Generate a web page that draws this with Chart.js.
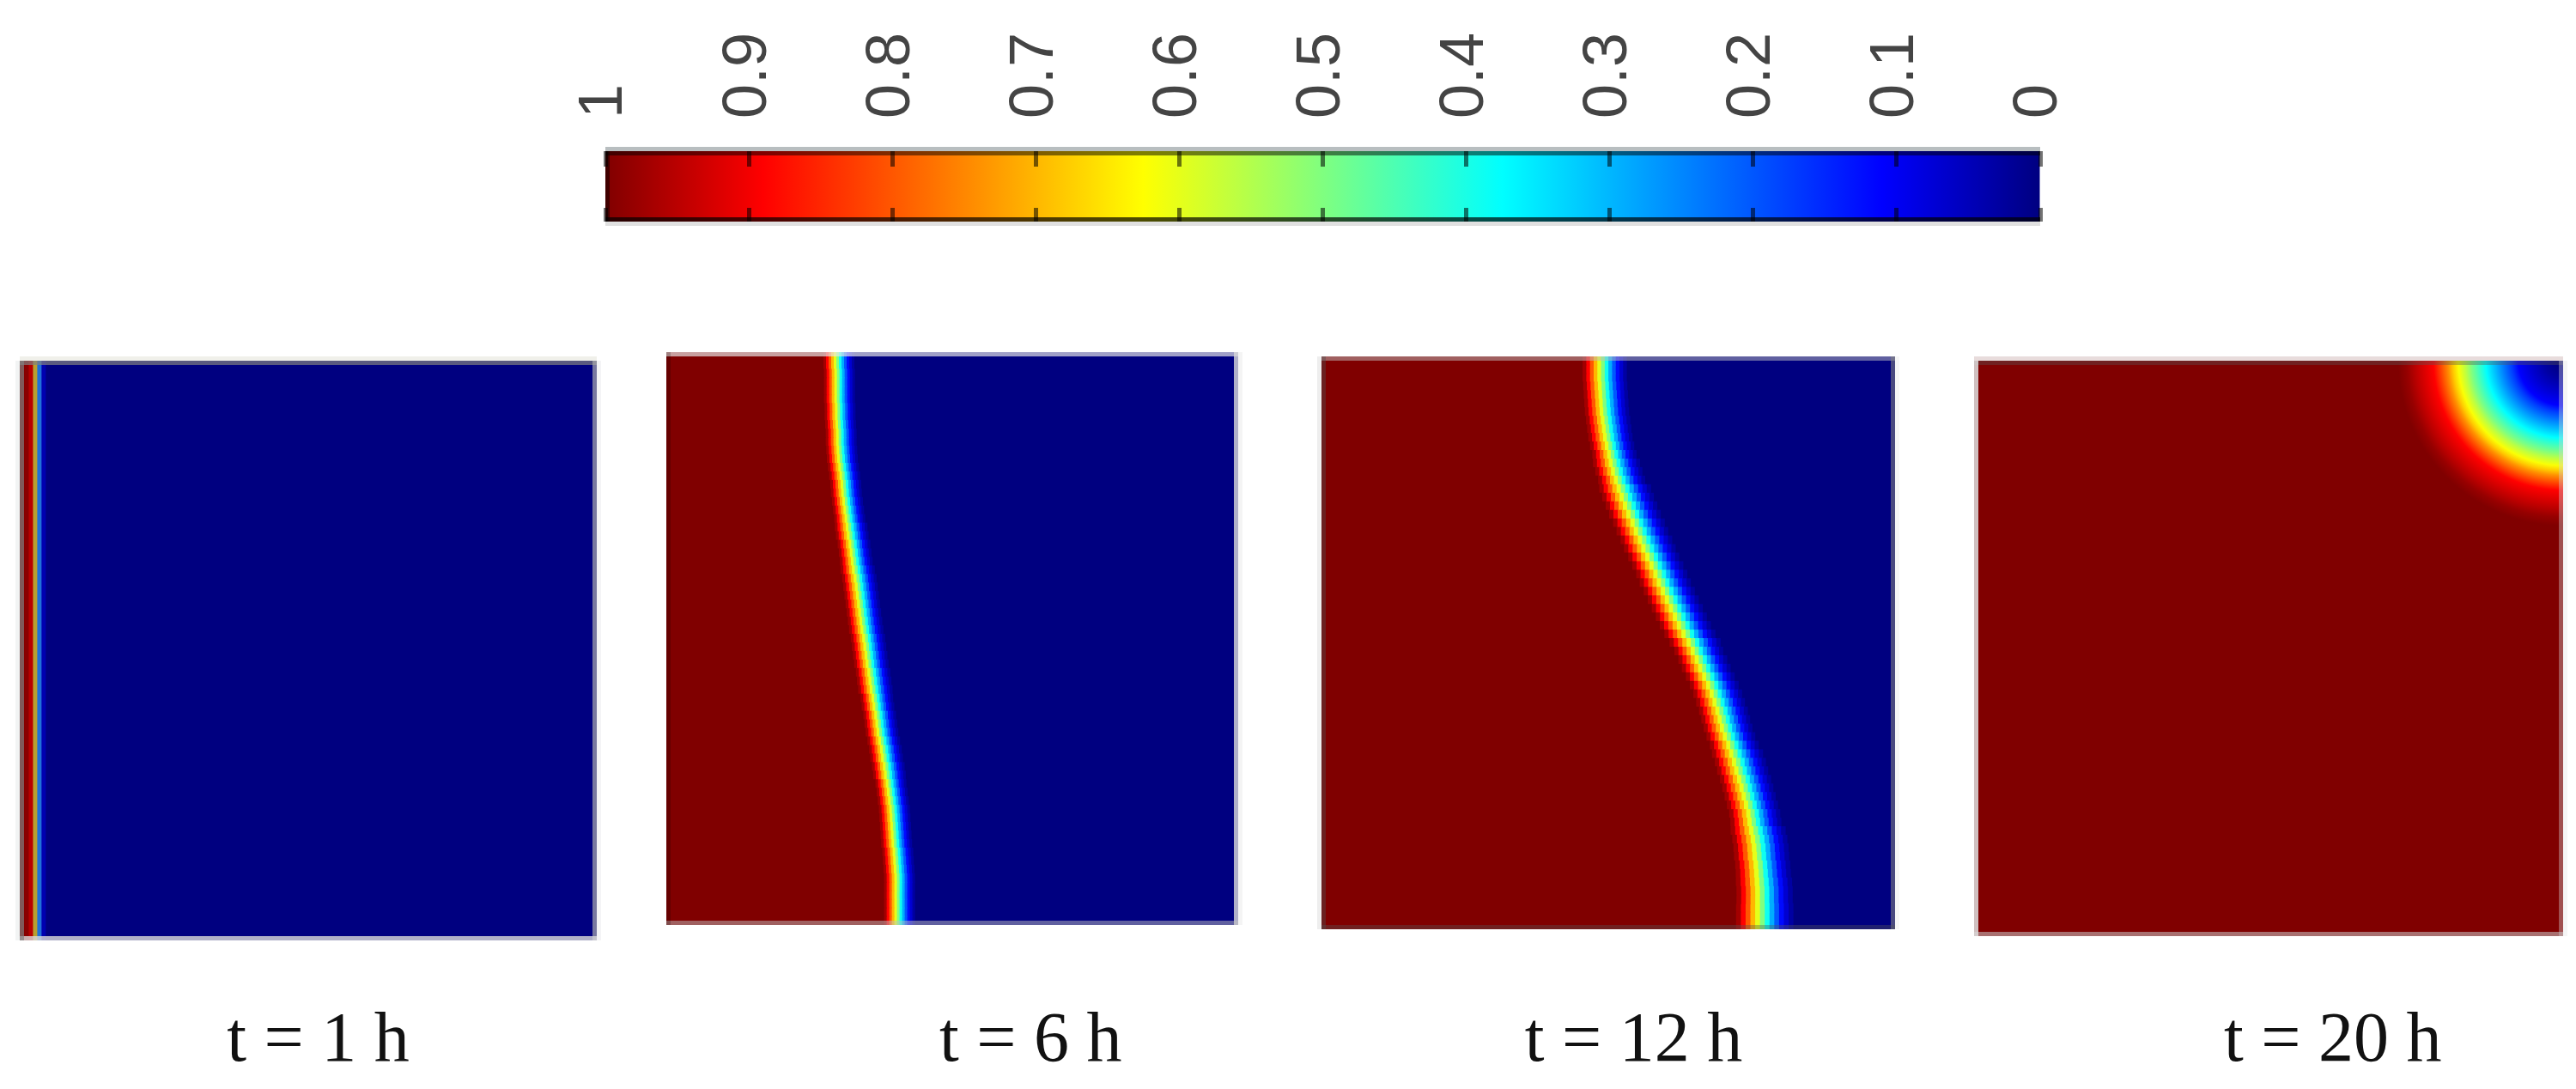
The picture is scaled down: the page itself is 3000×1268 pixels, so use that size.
<!DOCTYPE html>
<html>
<head>
<meta charset="utf-8">
<title>Phase field snapshots</title>
<script src="https://cdn.jsdelivr.net/npm/chart.js@4.4.2/dist/chart.umd.min.js"></script>
<style>
  html, body { margin: 0; background: #fff; }
  body { position: relative; width: 3000px; height: 1268px; overflow: hidden; }
  canvas { position: absolute; }
</style>
</head>
<body>
<script>
// ---------- DATA ----------
const tickLabels = ["1", "0.9", "0.8", "0.7", "0.6", "0.5", "0.4", "0.3", "0.2", "0.1", "0"];
const captions   = ["t = 1 h", "t = 6 h", "t = 12 h", "t = 20 h"];

// colour scale: value -> colour
const jetLevels = [1, 0.89, 0.625, 0.375, 0.11, 0];
const jetColors = [[128, 0, 0], [255, 0, 0], [255, 255, 0], [0, 255, 255], [0, 0, 255], [0, 0, 128]];

// values of the thin bands across a front, from the full side to the empty side
const bandLevels = [0.97, 0.89, 0.8, 0.7, 0.6, 0.5, 0.39, 0.29, 0.2, 0.12, 0.07, 0.03];

// t = 1 h: straight stripes at the left edge, % of panel width
const stripes1h = [0.74, 0.74, 0.74, 0.74, 0.74, 0.74];

// t = 6 h: front centre and front width per row, top to bottom, % of panel width
const front6h = [
  29.4, 29.4, 29.5, 29.5, 29.5, 29.5, 29.6, 29.6, 29.7, 29.8,
  29.8, 29.9, 30.0, 30.2, 30.4, 30.6, 30.7, 30.9, 31.1, 31.3,
  31.5, 31.7, 32.0, 32.2, 32.4, 32.6, 32.9, 33.1, 33.3, 33.5,
  33.7, 33.9, 34.1, 34.4, 34.6, 34.8, 35.0, 35.3, 35.5, 35.7,
  36.0, 36.2, 36.5, 36.7, 36.9, 37.2, 37.5, 37.7, 38.0, 38.2,
  38.5, 38.7, 38.9, 39.1, 39.2, 39.3, 39.4, 39.5, 39.7, 39.8,
  39.9, 40.0, 40.0, 40.0, 40.0, 40.0, 40.0
];
const width6h = [
  5.4, 5.4, 5.4, 5.4, 5.4, 5.4, 5.4, 5.4, 5.4, 5.4,
  5.4, 5.4, 5.4, 5.4, 5.4, 5.4, 5.4, 5.4, 5.4, 5.4,
  5.7, 5.7, 5.7, 5.7, 5.7, 6.0, 6.0, 6.0, 6.0, 6.0,
  6.0, 6.0, 6.0, 6.0, 6.0, 6.0, 6.0, 6.0, 6.0, 6.0,
  5.7, 5.7, 5.7, 5.7, 5.7, 5.7, 5.7, 5.7, 5.7, 5.7,
  5.4, 5.4, 5.4, 5.4, 5.4, 5.4, 5.4, 5.4, 5.4, 5.4,
  5.4, 5.4, 5.4, 5.4, 5.4, 5.4, 5.4
];

// t = 12 h: same reading
const front12h = [
  48.3, 48.3, 48.3, 48.4, 48.5, 48.6, 48.7, 48.9, 49.1, 49.3,
  49.6, 50.0, 50.3, 50.7, 51.2, 51.7, 52.2, 52.8, 53.4, 54.1,
  54.7, 55.4, 56.0, 56.7, 57.4, 58.1, 58.7, 59.4, 60.1, 60.8,
  61.5, 62.2, 63.0, 63.9, 64.6, 65.3, 65.9, 66.6, 67.3, 67.9,
  68.4, 68.9, 69.3, 69.7, 70.2, 70.8, 71.3, 71.8, 72.2, 72.7,
  73.1, 73.5, 73.9, 74.3, 74.5, 74.8, 75.1, 75.3, 75.4, 75.6,
  75.7, 75.8, 75.9, 75.9, 75.9, 75.9, 75.9
];
const width12h = [
  7.7, 7.7, 7.7, 7.7, 7.7, 7.7, 7.7, 7.7, 7.7, 7.7,
  7.7, 7.7, 8.2, 8.2, 8.2, 9.0, 9.0, 9.0, 9.0, 9.0,
  9.0, 9.0, 9.0, 8.9, 8.9, 8.9, 8.9, 8.9, 8.9, 8.9,
  8.9, 8.9, 8.9, 8.9, 8.5, 8.5, 8.5, 8.5, 8.5, 8.5,
  8.5, 8.5, 8.5, 8.5, 8.5, 8.5, 8.9, 8.9, 8.9, 8.9,
  8.9, 8.9, 8.9, 8.9, 8.9, 9.6, 9.6, 9.6, 9.6, 9.6,
  9.6, 9.8, 9.8, 9.8, 10.0, 10.0, 10.0
];

// t = 20 h: contours round the top right corner, value and radius in % of panel width
const ringLevels = [1, 1, 0.98, 0.95, 0.92, 0.89, 0.82, 0.74, 0.68, 0.62, 0.56, 0.5, 0.44, 0.375, 0.3, 0.24, 0.17, 0.11, 0.07, 0.03, 0];
const ringRadii  = [150, 28, 26.5, 25.1, 23.6, 22.0, 20.8, 19.5, 18.7, 17.8, 16.6, 15.6, 14.4, 13.1, 11.5, 10.2, 8.7, 7.6, 5.5, 3.2, 1.0];

// where each caption sits under its panel, % of panel width
const captionAt = [51.7, 63.7, 54.4, 60.9];

// ---------- LAYOUT ----------
const EDGE = 5;
const boxes = [
  { x: 23,   y: 420, w: 672, h: 675, gap: 69 },
  { x: 776,  y: 410, w: 666, h: 667, gap: 87 },
  { x: 1539, y: 415, w: 668, h: 667, gap: 82 },
  { x: 2299, y: 420, w: 686, h: 670, gap: 74 }
];
// edge strips of each panel: top, right, bottom, left
const insideEdges = [
  ["rgba(128,128,128,.7)", "rgba(174,174,174,.69)", "rgba(217,217,217,.81)", "rgba(128,128,128,.7)"],
  ["rgba(232,232,232,.69)", "rgba(217,217,217,.81)", "rgba(192,192,192,.5)", "rgba(0,0,0,.2)"],
  ["rgba(192,192,192,.5)", "rgba(128,128,128,.58)", "rgba(85,85,85,.375)", "rgba(78,78,78,.41)"],
  ["rgba(85,85,85,.375)", "rgba(213,213,213,.375)", "rgba(200,200,200,.56)", "rgba(219,219,219,.875)"]
];
const outsideEdges = [
  ["#f0f0ea", "#f4f4f6", null, "#f2f4f4"],
  [null, "#f4f4f4", null, null],
  [null, "#f6f6f6", null, "#eeeeee"],
  ["#e8dcdc", "#f5f5f5", null, null]
];

// ---------- HELPERS ----------
function jetAt(v) {
  let i = 0;
  while (i < jetLevels.length - 2 && v < jetLevels[i + 1]) i++;
  const t = (jetLevels[i] - v) / (jetLevels[i] - jetLevels[i + 1]);
  const c = jetColors[i].map((a, k) => Math.round(a + (jetColors[i + 1][k] - a) * t));
  return `rgb(${c[0]},${c[1]},${c[2]})`;
}

// strips drawn over and round the plot area
const edgeStrips = {
  id: "edgeStrips",
  afterDraw(chart, args, opts) {
    const { ctx, chartArea: a } = chart;
    const rects = (d, out) => [
      [a.left, out ? a.top - d : a.top, a.width, d],
      [out ? a.right : a.right - d, a.top, d, a.height],
      [a.left, out ? a.bottom : a.bottom - d, a.width, d],
      [out ? a.left - d : a.left, a.top, d, a.height]
    ];
    ctx.save();
    [[opts.outside, true], [opts.inside, false]].forEach(([list, out]) => {
      rects(EDGE, out).forEach((r, i) => {
        if (!list || !list[i]) return;
        ctx.fillStyle = list[i];
        ctx.fillRect(r[0], r[1], r[2], r[3]);
      });
    });
    ctx.restore();
  }
};
Chart.register(edgeStrips);

function addCanvas(left, top, width, height) {
  const c = document.createElement("canvas");
  c.width = width;
  c.height = height;
  c.style.left = left + "px";
  c.style.top = top + "px";
  c.style.width = width + "px";
  c.style.height = height + "px";
  document.body.appendChild(c);
  return c;
}

function bandDatasets(rows, fills) {
  return fills.map(f => ({
    data: rows.map((_, r) => f.value(r)),
    backgroundColor: f.color,
    borderWidth: 0,
    inflateAmount: 0.5,
    barPercentage: 1,
    categoryPercentage: 1,
    stack: "row"
  }));
}

function frontFills(front, width) {
  const fills = [{ color: jetAt(1), value: r => front[r] - 0.37 * width[r] }];
  bandLevels.forEach(v => fills.push({ color: jetAt(v), value: r => width[r] / bandLevels.length }));
  fills.push({ color: jetAt(0), value: r => 100 - (front[r] - 0.37 * width[r]) - width[r] });
  return fills;
}

function stripeFills() {
  const colors = ["#800000", "#8a0000", "#b80000", "#b8a030", "#2070d8", "#0000b0"];
  const fills = stripes1h.map((w, i) => ({ color: colors[i], value: () => w }));
  const used = stripes1h.reduce((s, w) => s + w, 0);
  fills.push({ color: jetAt(0), value: () => 100 - used });
  return fills;
}

function panelOptions(i, yScale, extra) {
  return {
    responsive: false,
    devicePixelRatio: 1,
    animation: false,
    events: [],
    layout: { padding: { top: 6, left: 6, right: 6, bottom: 0 } },
    plugins: {
      legend: { display: false },
      tooltip: { enabled: false },
      edgeStrips: { inside: insideEdges[i], outside: outsideEdges[i] }
    },
    scales: {
      x: {
        type: "linear", min: 0, max: 100,
        stacked: true,
        grid: { display: false },
        border: { display: false },
        afterBuildTicks(s) { s.ticks = [{ value: captionAt[i] }]; },
        afterFit(s) { s.height = 180; },
        ticks: {
          autoSkip: false, maxRotation: 0, minRotation: 0,
          padding: boxes[i].gap,
          color: "#111",
          font: { family: "'Liberation Serif'", size: 82, lineHeight: 1 },
          callback: () => captions[i]
        }
      },
      y: yScale
    },
    ...extra
  };
}

function barPanel(i, rows, fills) {
  const b = boxes[i];
  new Chart(addCanvas(b.x - 6, b.y - 6, b.w + 12, b.h + 186), {
    type: "bar",
    data: { labels: rows, datasets: bandDatasets(rows, fills) },
    options: panelOptions(i, { display: false, stacked: true }, { indexAxis: "y" })
  });
}

// ---------- COLOUR BAR ----------
function colorBar() {
  const axis = {
    type: "linear", min: 0, max: 1, reverse: true,
    border: { display: false }
  };
  new Chart(addCanvas(645, 0, 1791, 264), {
    type: "bar",
    data: {
      labels: [""],
      datasets: [{
        data: [[0, 1]],
        barPercentage: 1,
        categoryPercentage: 1,
        borderWidth: 0,
        inflateAmount: 0,
        backgroundColor(c) {
          const a = c.chart.chartArea;
          if (!a) return "#000";
          const g = c.chart.ctx.createLinearGradient(a.left, 0, a.right, 0);
          jetLevels.forEach(v => g.addColorStop(1 - v, jetAt(v)));
          return g;
        }
      }]
    },
    options: {
      responsive: false,
      devicePixelRatio: 1,
      animation: false,
      events: [],
      indexAxis: "y",
      layout: { padding: { top: 0, left: 60, right: 60, bottom: 6 } },
      plugins: {
        legend: { display: false },
        tooltip: { enabled: false },
        edgeStrips: {
          inside: ["rgba(0,0,0,.5)", null, "rgba(0,0,0,.7)", "rgba(0,0,0,.5)"],
          outside: ["#b8bec0", null, "#e0e0e0", null]
        }
      },
      scales: {
        x: {
          ...axis,
          position: "top",
          afterFit(s) { s.height = 176; s.paddingLeft = 0; s.paddingRight = 0; },
          grid: { drawOnChartArea: false, z: 1, tickLength: -18, tickWidth: 5, tickColor: "rgba(0,0,0,.55)" },
          ticks: {
            stepSize: 0.1, autoSkip: false, minRotation: 90, maxRotation: 90,
            padding: 56,
            labelOffset: 86,
            color: "#444",
            font: { family: "'Liberation Sans'", size: 72 },
            callback: v => tickLabels[Math.round((1 - v) * 10)]
          }
        },
        x2: {
          ...axis,
          axis: "x",
          position: "bottom",
          afterFit(s) { s.height = 0; s.paddingLeft = 0; s.paddingRight = 0; },
          grid: { drawOnChartArea: false, z: 1, tickLength: -16, tickWidth: 5, tickColor: "rgba(0,0,0,.55)" },
          ticks: { stepSize: 0.1, display: false }
        },
        y: { display: false }
      }
    }
  });
}

// ---------- PANELS ----------
colorBar();
barPanel(0, ["all rows"], stripeFills());
barPanel(1, front6h.map((_, r) => r), frontFills(front6h, width6h));
barPanel(2, front12h.map((_, r) => r), frontFills(front12h, width12h));

const b4 = boxes[3];
new Chart(addCanvas(b4.x - 6, b4.y - 6, b4.w + 12, b4.h + 186), {
  type: "scatter",
  data: {
    datasets: [{
      data: [{ x: 100, y: 100 }],
      clip: 0,
      pointRadius(c) {
        const s = c.chart.scales.x;
        const r = s.getPixelForValue(ringRadii[0]) - s.getPixelForValue(0);
        return Number.isFinite(r) ? r : 0;
      },
      pointBackgroundColor(c) {
        const { x, y } = c.chart.scales;
        const cx = x.getPixelForValue(100), cy = y.getPixelForValue(100);
        const full = x.getPixelForValue(ringRadii[0]) - x.getPixelForValue(0);
        // scales have no size yet on the first pass
        if (![cx, cy, full].every(Number.isFinite) || full <= 0) return jetAt(1);
        const g = c.chart.ctx.createRadialGradient(cx, cy, 0, cx, cy, full);
        for (let k = ringLevels.length - 1; k >= 0; k--) {
          g.addColorStop(ringRadii[k] / ringRadii[0], jetAt(ringLevels[k]));
        }
        return g;
      },
      pointBorderWidth: 0
    }]
  },
  options: panelOptions(3, { display: false, min: 0, max: 100 }, {})
});
</script>
</body>
</html>
